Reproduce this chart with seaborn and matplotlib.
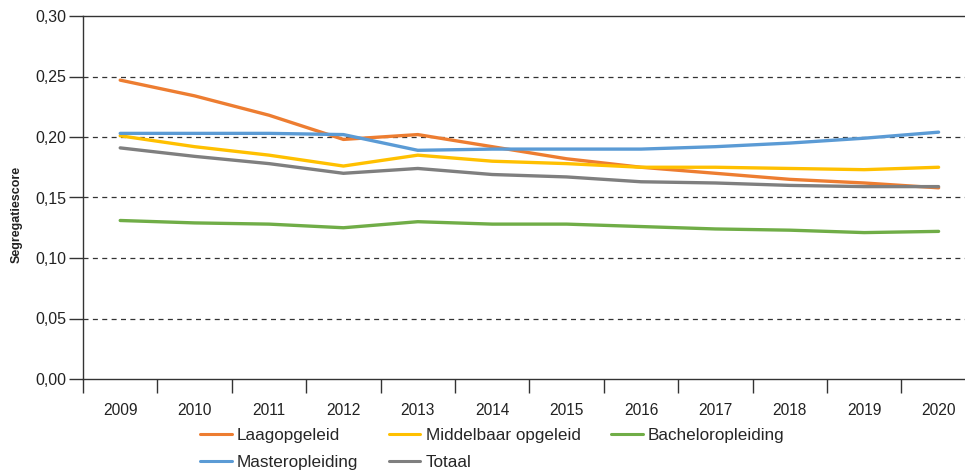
import numpy as np
import pandas as pd
import matplotlib
matplotlib.use("Agg")
import matplotlib.pyplot as plt
import seaborn as sns
from matplotlib.ticker import FixedLocator, FuncFormatter
from matplotlib.lines import Line2D

years = list(range(2009, 2021))
laag = [0.247, 0.234, 0.218, 0.198, 0.202, 0.192, 0.182, 0.175, 0.170, 0.165, 0.162, 0.158]
middel = [0.201, 0.192, 0.185, 0.176, 0.185, 0.180, 0.178, 0.175, 0.175, 0.174, 0.173, 0.175]
bachelor = [0.131, 0.129, 0.128, 0.125, 0.130, 0.128, 0.128, 0.126, 0.124, 0.123, 0.121, 0.122]
master = [0.203, 0.203, 0.203, 0.202, 0.189, 0.190, 0.190, 0.190, 0.192, 0.195, 0.199, 0.204]
totaal = [0.191, 0.184, 0.178, 0.170, 0.174, 0.169, 0.167, 0.163, 0.162, 0.160, 0.159, 0.159]

series = ["Laagopgeleid", "Middelbaar opgeleid", "Bacheloropleiding", "Masteropleiding", "Totaal"]
colors = ["#ED7D31", "#FFC000", "#70AD47", "#5B9BD5", "#7F7F7F"]
values = [laag, middel, bachelor, master, totaal]

df = pd.DataFrame({
    "jaar": years * len(series),
    "score": sum(values, []),
    "reeks": sum([[s] * len(years) for s in series], []),
})

sns.set_style("white")
plt.rcParams["font.family"] = ["Liberation Sans", "DejaVu Sans"]

fig = plt.figure(figsize=(9.65, 4.70), dpi=100)
ax = fig.add_axes([83 / 965, 1 - 379 / 470, 1 - 83 / 965, (379 - 16) / 470])

sns.lineplot(data=df, x="jaar", y="score", hue="reeks", hue_order=series,
             palette=dict(zip(series, colors)), linewidth=2.4, ax=ax, legend=False)

ax.set_xlim(2008.5, 2008.5 + (965 - 83) / 74.4)
ax.set_ylim(0, 0.30)
ax.set_yticks(np.arange(0, 0.301, 0.05))
ax.yaxis.set_major_formatter(FuncFormatter(lambda v, p: f"{v:.2f}".replace(".", ",")))
for yv in np.arange(0.05, 0.26, 0.05):
    ax.axhline(yv, color="#333333", linestyle=(0, (4, 3.5)), linewidth=0.9, zorder=0)

ax.xaxis.set_major_locator(FixedLocator([2008.5 + k for k in range(13)]))
ax.xaxis.set_minor_locator(FixedLocator(years))
ax.set_xticklabels([])
ax.set_xticklabels([str(y) for y in years], minor=True)
ax.tick_params(axis="x", which="major", bottom=True, length=10, width=1, color="#333333", direction="out")
ax.tick_params(axis="x", which="minor", bottom=True, length=0, pad=17, labelsize=11.2, labelcolor="#222222")
ax.tick_params(axis="y", left=True, length=10, width=1, color="#333333", direction="out",
               labelsize=11.5, labelcolor="#222222", pad=2)

for s in ["left", "bottom", "top"]:
    ax.spines[s].set_visible(True)
    ax.spines[s].set_color("#333333")
    ax.spines[s].set_linewidth(1.0)
ax.spines["right"].set_visible(False)

ax.set_xlabel("")
ax.set_ylabel("Segregatiescore", fontsize=9, fontweight="bold", color="#222222")
ax.yaxis.set_label_coords(-60 / 882, 1 - (214 - 16) / 363)

handles = [Line2D([], [], color=c, linewidth=2.2) for c in colors]
order = [0, 3, 1, 4, 2]
fig.legend([handles[i] for i in order], [series[i] for i in order], ncol=3,
           loc="upper left", bbox_to_anchor=(200 / 965, 1 - 428 / 470), frameon=False,
           fontsize=12.3, handlelength=1.85, handletextpad=0.3, columnspacing=1.8,
           labelspacing=0.68, borderaxespad=0, borderpad=0)

fig.savefig("out.png", dpi=100)
